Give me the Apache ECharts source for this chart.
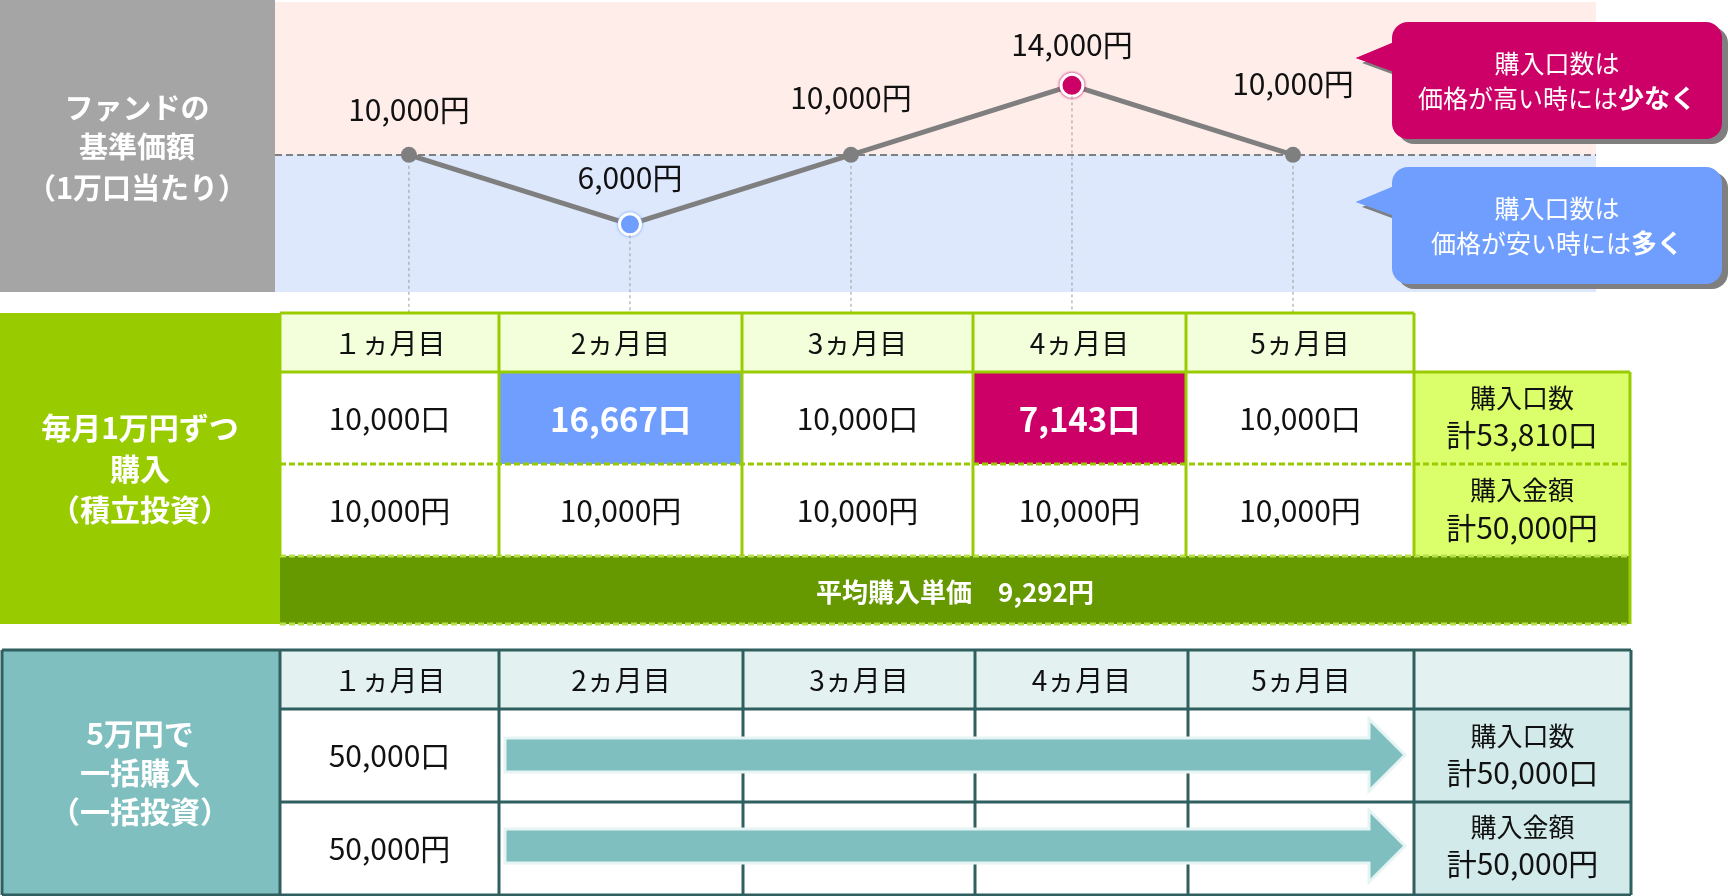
<!DOCTYPE html>
<html><head><meta charset="utf-8">
<script src="https://cdn.jsdelivr.net/npm/echarts@6/dist/echarts.min.js"></script>
<style>html,body{margin:0;padding:0;background:#fff}#c{width:1728px;height:896px}</style>
</head><body><div id="c"></div>
<script>
// ---- data ----
const months = ['１ヵ月目', '2ヵ月目', '3ヵ月目', '4ヵ月目', '5ヵ月目'];
const monthIndex = [1, 2, 3, 4, 5];
const prices = [10000, 6000, 10000, 14000, 10000];
const basePrice = 10000;
const dcaUnits = [10000, 16667, 10000, 7143, 10000];
const dcaAmounts = [10000, 10000, 10000, 10000, 10000];
const dcaTotalUnits = 53810;
const dcaTotalAmount = 50000;
const dcaAvgPrice = 9292;
const lumpUnits = 50000;
const lumpAmount = 50000;
const highlightIndexLow = 1;   // price low -> more units
const highlightIndexHigh = 3;  // price high -> fewer units

// ---- style ----
const FF = '"Noto Sans CJK JP", "Noto Sans", sans-serif';
const C = {
  gray: '#A5A5A5', line: '#7F7F7F', pink: '#FEEDE9', blueBand: '#DDE8FD',
  blue: '#6F9EFF', mag: '#CC0066',
  green: '#99CC00', greenHdr: '#F3FFDA', greenSum: '#DAFF6A', greenDark: '#669900',
  teal: '#7FBFBF', tealHdr: '#E3F2F1', tealSum: '#D2EAEA', tealLine: '#2F5F5F'
};
const fmt = n => String(n).replace(/\B(?=(\d{3})+(?!\d))/g, ',');
const labelOffsets = [-45, -47, -57, -41, -71];

const chart = echarts.init(document.getElementById('c'), null, {renderer: 'canvas'});

const lineData = monthIndex.map((m, i) => {
  const d = {value: [m, prices[i]], label: {offset: [0, labelOffsets[i]]}};
  if (i === highlightIndexLow) {
    d.symbolSize = 21;
    d.itemStyle = {color: C.blue, borderColor: '#fff', borderWidth: 3, shadowColor: C.blue, shadowBlur: 3};
  } else if (i === highlightIndexHigh) {
    d.symbolSize = 22;
    d.itemStyle = {color: C.mag, borderColor: '#fff', borderWidth: 3, shadowColor: C.mag, shadowBlur: 3};
  }
  return d;
});

chart.setOption({
  animation: false,
  grid: {left: 275, top: 2, width: 1321, height: 290},
  xAxis: {type: 'value', min: 0.394, max: 6.371, show: false},
  yAxis: {type: 'value', min: 2100, max: 18800, show: false},
  series: [{
    type: 'line',
    data: lineData,
    symbol: 'circle',
    symbolSize: 16,
    itemStyle: {color: C.line},
    lineStyle: {color: C.line, width: 5},
    label: {
      show: true, position: 'inside',
      formatter: p => fmt(p.value[1]) + '円',
      fontSize: 30, color: '#111', fontFamily: FF
    },
    markArea: {
      silent: true,
      data: [
        [{yAxis: basePrice, itemStyle: {color: C.pink}}, {yAxis: 18800}],
        [{yAxis: 2100, itemStyle: {color: C.blueBand}}, {yAxis: basePrice}]
      ]
    },
    markLine: {
      silent: true, symbol: 'none', label: {show: false},
      lineStyle: {color: '#7F7F7F', type: [7, 4], width: 2},
      data: [{yAxis: basePrice}]
    }
  }]
});

// ---- graphics ----
const G = [];
const rect = (x, y, w, h, fill, z, extra) => G.push(Object.assign({type: 'rect', z: z || 10, shape: {x, y, width: w, height: h}, style: {fill}}, extra || {}));
const line = (x1, y1, x2, y2, stroke, w, dash, z) => G.push({type: 'line', z: z || 12, shape: {x1, y1, x2, y2}, style: {stroke, lineWidth: w, lineDash: dash || null}});
const text = (x, y, t, size, color, bold, z) => G.push({type: 'text', z: z || 14, x, y, style: {text: t, fontSize: size, fontFamily: FF, fontWeight: bold ? 'bold' : 'normal', fill: color, align: 'center', verticalAlign: 'middle'}});

// drop lines from points
monthIndex.forEach((m, i) => {
  const p = chart.convertToPixel({seriesIndex: 0}, [m, prices[i]]);
  line(p[0], p[1] + 11, p[0], 312, '#9A9A9A', 1, [3, 3], 11);
});

// left gray box
rect(0, 0, 275, 292, C.gray, 10);
text(137, 108, 'ファンドの', 29, '#fff', true);
text(137, 147, '基準価額', 29, '#fff', true);
text(137, 188, '（1万口当たり）', 29, '#fff', true);

// callouts
function callout(y0, h, tipY, col, line1, line2a, line2b) {
  const x0 = 1392, w = 330;
  const sh = {shadowColor: '#7F7F7F', shadowOffsetX: 6, shadowOffsetY: 5, shadowBlur: 0};
  G.push({type: 'polygon', z: 20, shape: {points: [[x0 + 2, tipY - 16], [1356, tipY], [x0 + 2, tipY + 14]]}, style: Object.assign({fill: col}, sh)});
  G.push({type: 'rect', z: 21, shape: {x: x0, y: y0, width: w, height: h, r: 16}, style: Object.assign({fill: col}, sh)});
  G.push({type: 'polygon', z: 22, shape: {points: [[x0 + 4, tipY - 16], [1356, tipY], [x0 + 4, tipY + 14]]}, style: {fill: col}});
  const cx = x0 + w / 2;
  G.push({type: 'text', z: 23, x: cx, y: y0 + 41, style: {text: line1, fontSize: 25, fontFamily: FF, fill: '#fff', align: 'center', verticalAlign: 'middle'}});
  G.push({type: 'text', z: 23, x: cx, y: y0 + 76, style: {
    text: '{a|' + line2a + '}{b|' + line2b + '}', align: 'center', verticalAlign: 'middle', fill: '#fff',
    rich: {
      a: {fontSize: 25, fontFamily: FF, fill: '#fff', color: '#fff'},
      b: {fontSize: 26, fontFamily: FF, fill: '#fff', color: '#fff', fontWeight: 'bold'}
    }
  }});
}
callout(22, 117, 58, C.mag, '購入口数は', '価格が高い時には', '少なく');
callout(167, 117, 202, C.blue, '購入口数は', '価格が安い時には', '多く');

// ---- table 1 : dollar-cost averaging ----
const cx1 = [280, 499, 742, 973, 1186, 1414, 1630];
const H1 = 313, R1 = 372, R2 = 464, R3 = 556, R4 = 624;
rect(0, H1, 280, R4 - H1, C.green);
text(140, 428, '毎月1万円ずつ', 30, '#fff', true);
text(140, 469, '購入', 30, '#fff', true);
text(140, 510, '（積立投資）', 30, '#fff', true);
months.forEach((mname, i) => {
  const x = cx1[i], w = cx1[i + 1] - cx1[i], mid = x + w / 2;
  rect(x, H1, w, R1 - H1, C.greenHdr);
  text(mid, 343, mname, 28, '#111', false);
  let fill = '#fff', tc = '#111', bold = false, fs = 30;
  if (i === highlightIndexLow) { fill = C.blue; tc = '#fff'; bold = true; fs = 33; }
  if (i === highlightIndexHigh) { fill = C.mag; tc = '#fff'; bold = true; fs = 33; }
  rect(x, R1, w, R2 - R1, fill);
  text(mid, 419, fmt(dcaUnits[i]) + '口', fs, tc, bold);
  rect(x, R2, w, R3 - R2, '#fff');
  text(mid, 511, fmt(dcaAmounts[i]) + '円', 30, '#111', false);
});
rect(cx1[5], R1, cx1[6] - cx1[5], R3 - R1, C.greenSum);
const sm1 = (cx1[5] + cx1[6]) / 2;
text(sm1, 398, '購入口数', 26, '#111', false);
text(sm1, 435, '計' + fmt(dcaTotalUnits) + '口', 30, '#111', false);
text(sm1, 490, '購入金額', 26, '#111', false);
text(sm1, 528, '計' + fmt(dcaTotalAmount) + '円', 30, '#111', false);
rect(cx1[0], R3, cx1[6] - cx1[0], R4 - R3, C.greenDark);
text((cx1[0] + cx1[6]) / 2, 592, '平均購入単価\u3000' + fmt(dcaAvgPrice) + '円', 26, '#fff', true);
// lines
line(cx1[0], H1, cx1[5], H1, C.green, 3);
line(cx1[0], R1, cx1[6], R1, C.green, 3);
line(cx1[0], R2, cx1[6], R2, C.green, 3, [6, 3]);
line(cx1[0], R3, cx1[6], R3, '#B5E04A', 3, [6, 3]);
line(cx1[0], R4, cx1[6], R4, '#B5E04A', 3, [6, 3]);
for (let i = 0; i <= 5; i++) line(cx1[i], H1, cx1[i], R3, C.green, 3);
line(cx1[6], R1, cx1[6], R4, C.green, 3);

// ---- table 2 : lump sum ----
const cx2 = [280, 499, 743, 975, 1188, 1414, 1631];
const K1 = 650, K2 = 709, K3 = 802, K4 = 895;
rect(2, K1, 278, K4 - K1, C.teal);
text(140, 734, '5万円で', 30, '#fff', true);
text(140, 773, '一括購入', 30, '#fff', true);
text(140, 812, '（一括投資）', 30, '#fff', true);
for (let i = 0; i < 6; i++) {
  const x = cx2[i], w = cx2[i + 1] - cx2[i];
  rect(x, K1, w, K2 - K1, C.tealHdr);
  rect(x, K2, w, K4 - K2, i === 5 ? C.tealSum : '#fff');
  if (i < 5) text(x + w / 2, 680, months[i], 28, '#111', false);
}
const c0 = (cx2[0] + cx2[1]) / 2;
text(c0, 756, fmt(lumpUnits) + '口', 30, '#111', false);
text(c0, 849, fmt(lumpAmount) + '円', 30, '#111', false);
const sm2 = (cx2[5] + cx2[6]) / 2;
text(sm2, 736, '購入口数', 26, '#111', false);
text(sm2, 773, '計' + fmt(lumpUnits) + '口', 30, '#111', false);
text(sm2, 827, '購入金額', 26, '#111', false);
text(sm2, 864, '計' + fmt(lumpAmount) + '円', 30, '#111', false);
// lines
line(2, K1, cx2[6], K1, C.tealLine, 3);
line(2, K4, cx2[6], K4, C.tealLine, 3);
line(2, K1, 2, K4, C.tealLine, 3);
line(cx2[0], K2, cx2[6], K2, C.tealLine, 3);
line(cx2[0], K3, cx2[6], K3, C.tealLine, 3);
for (let i = 0; i <= 6; i++) line(cx2[i], K1, cx2[i], K4, C.tealLine, 3);
// arrows
[755, 846].forEach(cy => {
  const xs = 505, xh = 1369, xt = 1405, hb = 17, hh = 36;
  G.push({type: 'polygon', z: 13, shape: {points: [
    [xs, cy - hb], [xh, cy - hb], [xh, cy - hh], [xt, cy], [xh, cy + hh], [xh, cy + hb], [xs, cy + hb]
  ]}, style: {fill: C.teal, stroke: '#E6F4F4', lineWidth: 3}});
});

chart.setOption({graphic: {elements: G}});
</script>
</body></html>
